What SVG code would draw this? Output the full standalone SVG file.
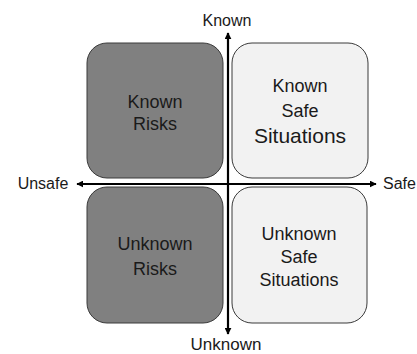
<svg xmlns="http://www.w3.org/2000/svg" width="417" height="354" viewBox="0 0 417 354">
<style>
text{font-family:"Liberation Sans",Arial,sans-serif;fill:#1a1a1a;text-anchor:middle}
.dark{fill:#808080;stroke:#3a3a3a;stroke-width:1}
.light{fill:#f2f2f2;stroke:#3a3a3a;stroke-width:1}
.axis{stroke:#000;stroke-width:2.2;fill:none}
.q{font-size:18px}
.ax{font-size:16px}
</style>
<defs>
<marker id="ah" viewBox="0 0 10 10" refX="9" refY="5" markerWidth="7" markerHeight="7" markerUnits="userSpaceOnUse" orient="auto"><path d="M0,0L10,5L0,10z" fill="#000"/></marker>
</defs>
<rect width="417" height="354" fill="#fff"/>
<g id="known-risks"><rect class="dark" x="87" y="43" width="136" height="135" rx="20"/><text class="q" x="155" y="108">Known</text><text class="q" x="155" y="130">Risks</text></g>
<g id="known-safe"><rect class="light" x="232" y="43" width="136" height="135" rx="20"/><text class="q" x="300" y="92">Known</text><text class="q" x="300" y="117">Safe</text><text x="300" y="143" font-size="21">Situations</text></g>
<g id="unknown-risks"><rect class="dark" x="87" y="187" width="136" height="136" rx="20"/><text class="q" x="155" y="250">Unknown</text><text class="q" x="155" y="275">Risks</text></g>
<g id="unknown-safe"><rect class="light" x="232" y="187" width="135" height="136" rx="20"/><text class="q" x="299" y="240">Unknown</text><text class="q" x="299" y="263">Safe</text><text class="q" x="299" y="286">Situations</text></g>
<g id="connectors">
<line class="axis" x1="228" y1="184" x2="228" y2="33" marker-end="url(#ah)"/>
<line class="axis" x1="228" y1="184" x2="228" y2="334" marker-end="url(#ah)"/>
<line class="axis" x1="228" y1="184" x2="77" y2="184" marker-end="url(#ah)"/>
<line class="axis" x1="228" y1="184" x2="376" y2="184" marker-end="url(#ah)"/>
</g>
<g id="labels">
<text class="ax" x="227" y="26">Known</text>
<text x="226" y="350" font-size="17">Unknown</text>
<text class="ax" x="43" y="189">Unsafe</text>
<text class="ax" x="383" y="189" style="text-anchor:start">Safe</text>
</g>
</svg>
